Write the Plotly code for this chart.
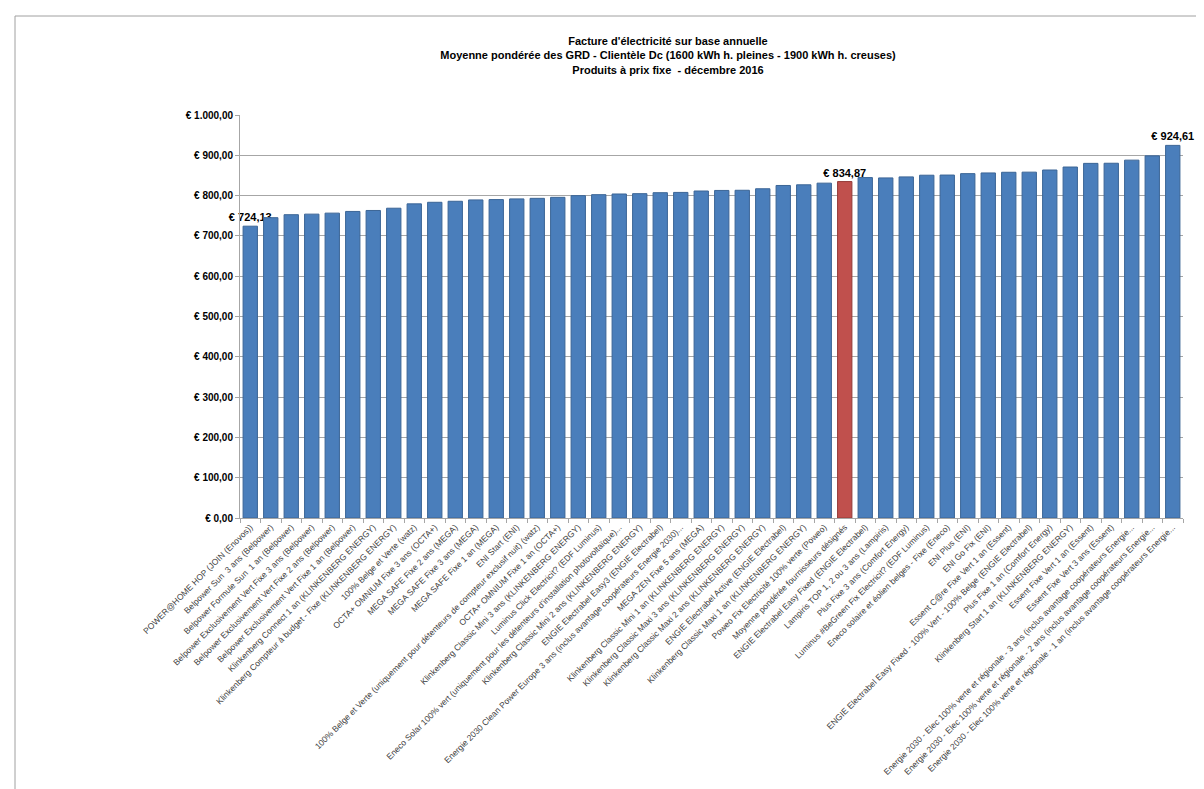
import plotly.graph_objects as go

categories = [
    "POWER@HOME HOP (JOIN (Enovos))",
    "Belpower Sun  3 ans (Belpower)",
    "Belpower Formule Sun  1 an (Belpower)",
    "Belpower Exclusivement Vert Fixe 3 ans (Belpower)",
    "Belpower Exclusivement Vert Fixe 2 ans (Belpower)",
    "Belpower Exclusivement Vert Fixe 1 an (Belpower)",
    "Klinkenberg Connect 1 an (KLINKENBERG ENERGY)",
    "Klinkenberg Compteur à budget - Fixe (KLINKENBERG ENERGY)",
    "100% Belge et Verte (watz)",
    "OCTA+ OMNIUM Fixe 3 ans (OCTA+)",
    "MEGA SAFE Fixe 2 ans (MEGA)",
    "MEGA SAFE Fixe 3 ans (MEGA)",
    "MEGA SAFE Fixe 1 an (MEGA)",
    "ENI Start (ENI)",
    "100% Belge et Verte (uniquement pour détenteurs de compteur exclusif nuit) (watz)",
    "OCTA+ OMNIUM Fixe 1 an (OCTA+)",
    "Klinkenberg Classic Mini 3 ans (KLINKENBERG ENERGY)",
    "Luminus Click Electricit? (EDF Luminus)",
    "Eneco Solar 100% vert (uniquement pour les détenteurs d'installation photovoltaïque)...",
    "Klinkenberg Classic Mini 2 ans (KLINKENBERG ENERGY)",
    "ENGIE Electrabel Easy3 (ENGIE Electrabel)",
    "Energie 2030 Clean Power Europe 3 ans (inclus avantage coopérateurs Energie 2030)...",
    "MEGA ZEN Fixe 5 ans (MEGA)",
    "Klinkenberg Classic Mini 1 an (KLINKENBERG ENERGY)",
    "Klinkenberg Classic Maxi 3 ans (KLINKENBERG ENERGY)",
    "Klinkenberg Classic Maxi 2 ans (KLINKENBERG ENERGY)",
    "ENGIE Electrabel Active (ENGIE Electrabel)",
    "Klinkenberg Classic Maxi 1 an (KLINKENBERG ENERGY)",
    "Poweo Fix Electricité 100% verte (Poweo)",
    "Moyenne pondérée fournisseurs désignés",
    "ENGIE Electrabel Easy Fixed (ENGIE Electrabel)",
    "Lampiris TOP 1, 2 ou 3 ans (Lampiris)",
    "Plus Fixe 3 ans (Comfort Energy)",
    "Luminus #BeGreen Fix Electricit? (EDF Luminus)",
    "Eneco solaire et éolien belges - Fixe (Eneco)",
    "ENI Plus (ENI)",
    "ENI Go Fix (ENI)",
    "Essent C@re Fixe Vert 1 an (Essent)",
    "ENGIE Electrabel Easy Fixed - 100% Vert - 100% Belge (ENGIE Electrabel)",
    "Plus Fixe 1 an (Comfort Energy)",
    "Klinkenberg Start 1 an (KLINKENBERG ENERGY)",
    "Essent Fixe Vert 1 an (Essent)",
    "Essent Fixe Vert 3 ans (Essent)",
    "Energie 2030 - Elec 100% verte et régionale - 3 ans (inclus avantage coopérateurs Energie...",
    "Energie 2030 - Elec 100% verte et régionale - 2 ans (inclus avantage coopérateurs Energie...",
    "Energie 2030 - Elec 100% verte et régionale - 1 an (inclus avantage coopérateurs Energie...",
]

values = [
    724.13, 745.2, 752.6, 754.0, 756.5, 760.7, 763.1, 768.7, 779.5, 783.4,
    785.9, 789.3, 790.1, 791.8, 793.2, 795.7, 799.9, 802.3, 804.0, 804.8,
    807.2, 807.9, 811.4, 812.8, 813.2, 817.0, 825.1, 826.8, 830.9, 834.87,
    844.7, 843.9, 846.4, 850.6, 851.0, 854.5, 856.2, 857.9, 858.2, 863.5,
    870.9, 880.0, 880.3, 888.0, 898.6, 924.61,
]

highlight_category = "Moyenne pondérée fournisseurs désignés"
labelled_categories = [categories[0], highlight_category, categories[-1]]

y_tick_values = [0, 100, 200, 300, 400, 500, 600, 700, 800, 900, 1000]
y_tick_labels = ["€ 0,00", "€ 100,00", "€ 200,00", "€ 300,00", "€ 400,00", "€ 500,00",
                 "€ 600,00", "€ 700,00", "€ 800,00", "€ 900,00", "€ 1.000,00"]

title_lines = [
    "Facture d'électricité sur base annuelle",
    "Moyenne pondérée des GRD - Clientèle Dc (1600 kWh h. pleines - 1900 kWh h. creuses)",
    "Produits à prix fixe  - décembre 2016",
]


def euro(v):
    s = f"{v:,.2f}".replace(",", " ").replace(".", ",").replace(" ", ".")
    return "€ " + s


BLUE = "#4A7EBB"
RED = "#C0504D"
colors = [RED if c == highlight_category else BLUE for c in categories]
lines = ["#3B6596" if c != highlight_category else "#943B39" for c in categories]
texts = ["<b>" + euro(v) + "</b>" if c in labelled_categories else ""
         for c, v in zip(categories, values)]

FONT = "Liberation Sans Narrow, Arial Narrow, Liberation Sans, Arial, sans-serif"

fig = go.Figure()
fig.add_trace(go.Bar(
    x=categories,
    y=values,
    marker=dict(color=colors, line=dict(color=lines, width=1)),
    text=texts,
    textposition="outside",
    constraintext="none",
    textfont=dict(family=FONT, size=11, color="#000000"),
    cliponaxis=False,
    hoverinfo="x+y",
))

W, H = 1204, 789
ml, mr, mt, mb = 232, 29, 107, 279
pw, ph = W - ml - mr, H - mt - mb


def px_x(p):
    return (p - ml) / pw


def px_y(p):
    return (H - mb - p) / ph


fig.update_layout(
    width=W, height=H,
    margin=dict(l=ml, r=mr, t=mt, b=mb, autoexpand=False),
    paper_bgcolor="white",
    plot_bgcolor="white",
    showlegend=False,
    bargap=0.3,
    font=dict(family=FONT, color="#000000"),
    title=dict(
        text="<b>" + "<br>".join(title_lines) + "</b>",
        x=(660 / W), xanchor="center",
        y=1 - 37 / H, yanchor="top",
        font=dict(family=FONT, size=11, color="#000000"),
    ),
    xaxis=dict(
        type="category",
        range=[-0.5, len(categories) - 0.5],
        tickangle=-45,
        tickfont=dict(family=FONT, size=8.5, color="#404040"),
        showline=True, linecolor="#A6A6A6", linewidth=1,
        ticks="outside", tickson="boundaries", ticklen=4, tickcolor="#A6A6A6",
        showgrid=False,
        automargin=False,
    ),
    yaxis=dict(
        range=[0, 1000],
        tickvals=y_tick_values,
        ticktext=["<b>" + t + "</b>" for t in y_tick_labels],
        tickfont=dict(family=FONT, size=10, color="#000000"),
        showline=True, linecolor="#A6A6A6", linewidth=1,
        ticks="outside", ticklen=4, tickcolor="#A6A6A6",
        showgrid=True, gridcolor="#A6A6A6", gridwidth=1,
        zeroline=False,
        automargin=False,
    ),
    shapes=[dict(
        type="rect", xref="paper", yref="paper",
        x0=px_x(7), x1=px_x(1230), y0=px_y(820), y1=px_y(8),
        line=dict(color="#A0A0A0", width=1), fillcolor="rgba(0,0,0,0)",
        layer="below",
    )],
)

fig.write_html("out.html")
